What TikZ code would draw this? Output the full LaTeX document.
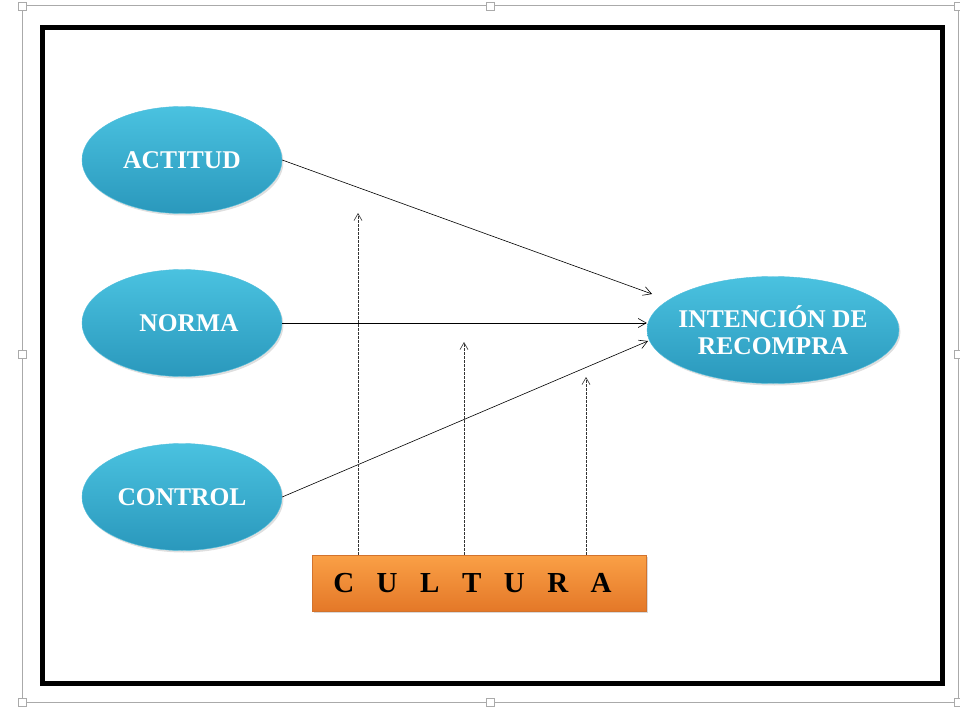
\documentclass[tikz,border=0pt]{standalone}
\usepackage{fontspec}
\setmainfont{Liberation Serif}
\usetikzlibrary{arrows.meta,calc,positioning,shapes.geometric,shadows}
\definecolor{BubbleTop}{RGB}{74,194,224}
\definecolor{BubbleBottom}{RGB}{42,152,188}
\definecolor{BubbleEdge}{RGB}{80,190,220}
\definecolor{CultTop}{RGB}{250,160,70}
\definecolor{CultBottom}{RGB}{228,120,40}
\definecolor{CultEdge}{RGB}{210,115,45}
\definecolor{FrameGray}{RGB}{170,170,170}

\begin{document}
\begin{tikzpicture}[x=1pt,y=-1pt,
    construct/.style={ellipse, draw=BubbleEdge, top color=BubbleTop, bottom color=BubbleBottom,
        minimum width=200pt, minimum height=107pt, text=white, align=center,
        font=\bfseries\fontsize{25.5}{27}\selectfont,
        drop shadow={opacity=0.25, shadow xshift=1.5pt, shadow yshift=-2pt}},
    effect/.style={-{Straight Barb[length=8pt,width=9pt]}, line width=0.6pt},
    influence/.style={-{Straight Barb[length=7pt,width=8pt]}, line width=0.6pt,
        dash pattern=on 2.5pt off 1.5pt, black!80},
    handle/.style={draw=FrameGray, fill=white, minimum size=8pt, inner sep=0pt}]
    \useasboundingbox (0,0) rectangle (960,708);
    % Selection frame of the picture
    \draw[FrameGray, line width=1pt] (22,6) rectangle (958,702);
    \foreach \hx/\hy in {22/6, 490/6, 22/354, 490/702, 958/354, 958/702, 958/6, 22/702}
        \node[handle] at (\hx,\hy) {};
    % Thick outer border
    \draw[line width=5pt] (42.5,27.5) rectangle (942.5,683.5);
    % Constructs
    \node[construct] (actitud) at (182,160) {ACTITUD};
    \node[construct] (norma) at (182,323) {\hspace*{14pt}NORMA};
    \node[construct] (control) at (182,497) {CONTROL};
    \node[construct, minimum width=252pt, inner xsep=-12pt] (intencion) at (773,330) {INTENCIÓN DE\\RECOMPRA};
    % Moderator box
    \node[draw=CultEdge, top color=CultTop, bottom color=CultBottom, minimum width=334pt,
        minimum height=56pt, inner sep=0pt, font=\bfseries\fontsize{29}{32}\selectfont,
        drop shadow={opacity=0.3, shadow xshift=1.5pt, shadow yshift=-2pt}]
        (cultura) at (479,583) {\spaceskip=22.5pt C U L T U R A\hspace*{13pt}};
    % Direct effects
    \coordinate (inA) at (652,294);
    \coordinate (inC) at (648,341);
    \draw[effect] (actitud.east) -- (inA);
    \draw[effect] (norma.east) -- (norma.east -| intencion.west);
    \draw[effect] (control.east) -- (inC);
    % Moderating effects of culture
    \coordinate (m1) at (358,213);
    \coordinate (m2) at (464,342);
    \coordinate (m3) at (586,377);
    \foreach \m in {m1,m2,m3}
        \draw[influence] (\m |- cultura.north) -- (\m);
\end{tikzpicture}
\end{document}
